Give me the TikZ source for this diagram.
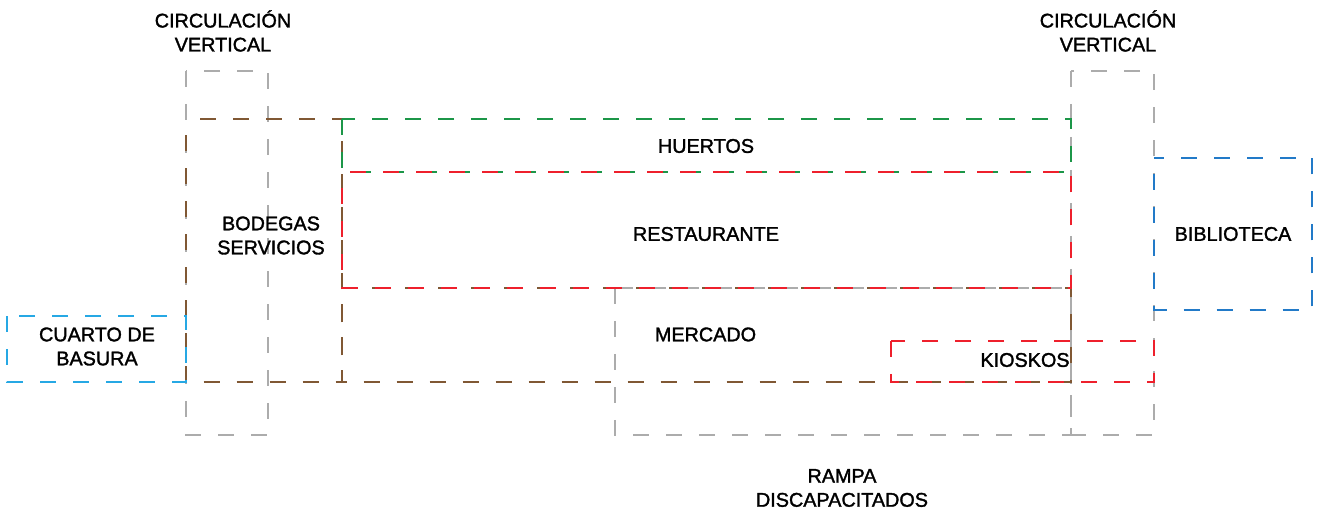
\documentclass[tikz,border=0pt]{standalone}
\usepackage{fontspec}
\setmainfont{Liberation Sans}
\newfontfamily\zonefont[FakeBold=1.6]{Liberation Sans}
\definecolor{circgray}{RGB}{172,172,172}
\definecolor{bodbrown}{RGB}{128,88,52}
\definecolor{huertgreen}{RGB}{28,150,72}
\definecolor{restred}{RGB}{238,32,44}
\definecolor{basucyan}{RGB}{38,168,228}
\definecolor{biblblue}{RGB}{34,122,200}

\begin{document}
\begin{tikzpicture}[x=0.5pt,y=-0.5pt,
	zone/.style={line width=1pt,dash pattern=on 8pt off 8.5pt},
	shifted/.style={dash phase=8.25pt},
	lbl/.style={font=\zonefont\fontsize{9.9}{12}\selectfont,align=center,inner sep=0pt}]
	
	\useasboundingbox (0,0) rectangle (1317,512);
	
	\draw [zone,circgray] (186,71) rectangle (268,435);
	\draw [zone,circgray] (1071,71) rectangle (1154,435);
	\draw [zone,circgray] (615,288) rectangle (1071,435);
	
	\draw [zone,bodbrown,shifted] (186,119) rectangle (342,382);
	\draw [zone,bodbrown,shifted] (342,288) rectangle (1071,382);
	
	\draw [zone,huertgreen] (342,119) rectangle (1071,172);
	\draw [zone,restred,shifted] (342,172) rectangle (1071,288);
	\draw [zone,restred] (891,341) rectangle (1154,382);
	
	\draw [zone,basucyan] (7,316) rectangle (186,382);
	\draw [zone,biblblue,shifted] (1154,158) rectangle (1312,310);
	
	\node [lbl] (circizq) at (223,31) {CIRCULACIÓN\\VERTICAL};
	\node [lbl] (circder) at (1108,31) {CIRCULACIÓN\\VERTICAL};
	\node [lbl] (bodegas) at (271,235.5) {BODEGAS\\SERVICIOS};
	\node [lbl] (basura) at (97,346.5) {CUARTO DE\\BASURA};
	\node [lbl] (huertos) at (706,146) {HUERTOS};
	\node [lbl] (restaurante) at (706,234) {RESTAURANTE};
	\node [lbl] (mercado) at (705.5,334.5) {MERCADO};
	\node [lbl] (kioskos) at (1025,360) {KIOSKOS};
	\node [lbl] (biblioteca) at (1233,234) {BIBLIOTECA};
	\node [lbl] (rampa) at (842,488) {RAMPA\\DISCAPACITADOS};
	
\end{tikzpicture}
\end{document}
